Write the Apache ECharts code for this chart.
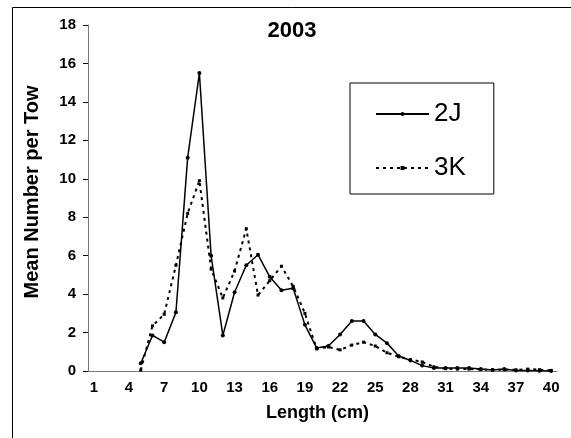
<!DOCTYPE html>
<html>
<head>
<meta charset="utf-8">
<script src="https://cdn.jsdelivr.net/npm/echarts@6/dist/echarts.min.js"></script>
<style>
  html, body { margin: 0; padding: 0; background: #fff; }
  #chart { width: 571px; height: 438px; }
</style>
</head>
<body>
<div id="chart"></div>
<script>
// Length classes (cm)
const lengths = [];
for (let i = 1; i <= 40; i++) lengths.push(String(i));

// Mean number per tow by length, division 2J
const series2J = [null, null, null, null, 0.4, 1.85, 1.5, 3.05, 11.1, 15.5,
                  6.0, 1.85, 4.1, 5.5, 6.05, 4.9, 4.2, 4.3, 2.4, 1.2,
                  1.3, 1.9, 2.6, 2.6, 1.9, 1.45, 0.78, 0.55, 0.28, 0.16,
                  0.15, 0.15, 0.15, 0.1, 0.05, 0.1, 0.03, 0.02, 0.01, 0];

// Mean number per tow by length, division 3K
const series3K = [null, null, null, null, 0.05, 2.35, 2.95, 5.5, 8.2, 9.9,
                  5.3, 3.8, 5.2, 7.4, 3.95, 4.7, 5.45, 4.4, 3.0, 1.15,
                  1.25, 1.1, 1.35, 1.5, 1.3, 0.95, 0.74, 0.6, 0.47, 0.22,
                  0.12, 0.1, 0.1, 0.08, 0.06, 0.06, 0.06, 0.1, 0.07, 0.03];

const yTicks = { min: 0, max: 18, step: 2 };

const font = '"Liberation Sans", Arial, sans-serif';

const chart = echarts.init(document.getElementById('chart'), null, { renderer: 'canvas' });

chart.setOption({
  animation: false,
  backgroundColor: '#fff',
  grid: { left: 88, right: 14, top: 25, bottom: 67, containLabel: false },
  graphic: [
    // chart-area frame (top and left edges)
    { type: 'line', shape: { x1: 12.5, y1: 7.5, x2: 571, y2: 7.5 }, style: { stroke: '#000', lineWidth: 1 } },
    { type: 'line', shape: { x1: 12.5, y1: 7.5, x2: 12.5, y2: 438 }, style: { stroke: '#000', lineWidth: 1 } },
    { type: 'text', x: 292, y: 31,
      style: { text: '2003', font: 'bold 22px ' + font, fill: '#000', textAlign: 'center', textVerticalAlign: 'middle' } }
  ],
  legend: {
    orient: 'vertical',
    left: 350, top: 83,
    padding: [18, 28, 13, 25],
    itemWidth: 53, itemHeight: 5, itemGap: 28,
    borderColor: '#000', borderWidth: 1,
    textStyle: { fontSize: 26, lineHeight: 26, fontFamily: font, color: '#000' },
    data: ['2J', '3K']
  },
  xAxis: {
    type: 'category',
    data: lengths,
    boundaryGap: true,
    axisLine: { lineStyle: { color: '#777', width: 1 } },
    axisTick: { interval: 0, length: 6, lineStyle: { color: '#000' } },
    axisLabel: { interval: 2, margin: 9, fontSize: 15, fontWeight: 'bold', fontFamily: font, color: '#000' },
    name: 'Length (cm)',
    nameLocation: 'middle',
    nameGap: 33,
    nameTextStyle: { fontSize: 18, fontWeight: 'bold', fontFamily: font, color: '#000', padding: [0, 10, 0, 0] },
    splitLine: { show: false }
  },
  yAxis: {
    type: 'value',
    min: yTicks.min, max: yTicks.max, interval: yTicks.step,
    axisLine: { show: true, lineStyle: { color: '#777', width: 1 } },
    axisTick: { show: true, length: 5, lineStyle: { color: '#000' } },
    axisLabel: { margin: 12, fontSize: 15, fontWeight: 'bold', fontFamily: font, color: '#000' },
    name: 'Mean Number per Tow',
    nameLocation: 'middle',
    nameGap: 46,
    nameTextStyle: { fontSize: 20, fontWeight: 'bold', fontFamily: font, color: '#000', padding: [0, 0, 0, 12] },
    splitLine: { show: false }
  },
  series: [
    {
      name: '2J', type: 'line', data: series2J,
      symbol: 'circle', symbolSize: 4, showSymbol: true,
      lineStyle: { color: '#000', width: 1.5 },
      itemStyle: { color: '#000' }
    },
    {
      name: '3K', type: 'line', data: series3K,
      symbol: 'rect', symbolSize: 3, showSymbol: true,
      lineStyle: { color: '#000', width: 2, type: [3, 4] },
      itemStyle: { color: '#000' }
    }
  ]
});
</script>
</body>
</html>
